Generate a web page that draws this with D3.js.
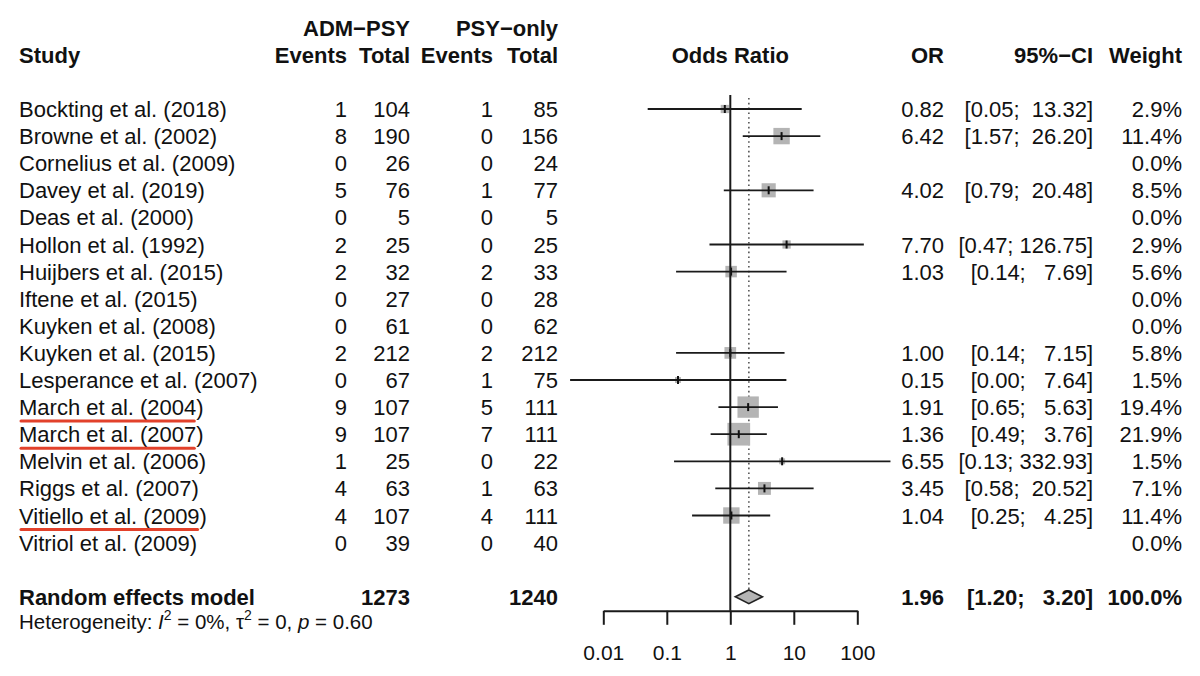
<!DOCTYPE html>
<html>
<head>
<meta charset="utf-8">
<script src="https://cdn.jsdelivr.net/npm/d3@7"></script>
<style>
  html, body { margin: 0; padding: 0; background: #fff; }
  svg text { font-family: "Liberation Sans", Arial, Helvetica, sans-serif; fill: #111; }
</style>
</head>
<body>
<svg id="chart" width="1200" height="676"></svg>
<script>
// ---------------- data ----------------
const studies = [
  "Bockting et al. (2018)", "Browne et al. (2002)", "Cornelius et al. (2009)",
  "Davey et al. (2019)", "Deas et al. (2000)", "Hollon et al. (1992)",
  "Huijbers et al. (2015)", "Iftene et al. (2015)", "Kuyken et al. (2008)",
  "Kuyken et al. (2015)", "Lesperance et al. (2007)", "March et al. (2004)",
  "March et al. (2007)", "Melvin et al. (2006)", "Riggs et al. (2007)",
  "Vitiello et al. (2009)", "Vitriol et al. (2009)"
];
const eventsADM = [1, 8, 0, 5, 0, 2, 2, 0, 0, 2, 0, 9, 9, 1, 4, 4, 0];
const totalADM  = [104, 190, 26, 76, 5, 25, 32, 27, 61, 212, 67, 107, 107, 25, 63, 107, 39];
const eventsPSY = [1, 0, 0, 1, 0, 0, 2, 0, 0, 2, 1, 5, 7, 0, 1, 4, 0];
const totalPSY  = [85, 156, 24, 77, 5, 25, 33, 28, 62, 212, 75, 111, 111, 22, 63, 111, 40];
const oddsRatio = [0.82, 6.42, null, 4.02, null, 7.70, 1.03, null, null, 1.00, 0.15, 1.91, 1.36, 6.55, 3.45, 1.04, null];
const ciLower   = [0.05, 1.57, null, 0.79, null, 0.47, 0.14, null, null, 0.14, 0.003, 0.65, 0.49, 0.13, 0.58, 0.25, null];
const ciUpper   = [13.32, 26.20, null, 20.48, null, 126.75, 7.69, null, null, 7.15, 7.64, 5.63, 3.76, 332.93, 20.52, 4.25, null];
const weights   = [2.9, 11.4, 0.0, 8.5, 0.0, 2.9, 5.6, 0.0, 0.0, 5.8, 1.5, 19.4, 21.9, 1.5, 7.1, 11.4, 0.0];
const highlighted = ["March et al. (2004)", "March et al. (2007)", "Vitiello et al. (2009)"];

const pooled = { label: "Random effects model", totalADM: 1273, totalPSY: 1240, or: 1.96, lower: 1.20, upper: 3.20, weight: 100.0 };
const heterogeneity = { I2: "0%", tau2: "0", p: "0.60" };
const tickValues = [0.01, 0.1, 1, 10, 100];
const tickLabels = ["0.01", "0.1", "1", "10", "100"];

// ---------------- layout ----------------
const svg = d3.select("#chart");
const FS = 22;
const baseOff = 8;          // text baseline below row centre
const colStudy = 19;
const colEvA = 347, colTotA = 410, colEvP = 493, colTotP = 558;
const colOR = 944, colCI = 1093, colW = 1182;

const x = d3.scaleLog().domain([0.01, 100]).range([603.3, 857.3]);
const y = d3.scaleLinear().domain([0, 18]).range([109, 596.8]);
const boxSize = d3.scaleSqrt().domain([0, 21.9]).range([0, 22.7]);

const rows = studies.map((s, i) => ({
  study: s, eA: eventsADM[i], nA: totalADM[i], eP: eventsPSY[i], nP: totalPSY[i],
  or: oddsRatio[i], lo: ciLower[i], hi: ciUpper[i], w: weights[i], i
}));

const fmtCI = (lo, hi) => "[" + lo.toFixed(2) + "; " + hi.toFixed(2).padStart(6, " ") + "]";

function txt(g, xx, yy, s, opts = {}) {
  return g.append("text")
    .attr("x", xx).attr("y", yy)
    .attr("text-anchor", opts.anchor || "start")
    .attr("font-size", opts.size || FS)
    .attr("font-weight", opts.bold ? "bold" : "normal")
    .attr("xml:space", "preserve")
    .style("white-space", "pre")
    .text(s);
}

// ---------------- headers ----------------
const hdr = svg.append("g");
const yH1 = y(-3) + baseOff, yH2 = y(-2) + baseOff;
txt(hdr, colTotA, yH1, "ADM\u2212PSY", { anchor: "end", bold: true });
txt(hdr, colTotP, yH1, "PSY\u2212only", { anchor: "end", bold: true });
txt(hdr, colStudy, yH2, "Study", { bold: true });
txt(hdr, colEvA, yH2, "Events", { anchor: "end", bold: true });
txt(hdr, colTotA, yH2, "Total", { anchor: "end", bold: true });
txt(hdr, colEvP, yH2, "Events", { anchor: "end", bold: true });
txt(hdr, colTotP, yH2, "Total", { anchor: "end", bold: true });
txt(hdr, x(1), yH2, "Odds Ratio", { anchor: "middle", bold: true });
txt(hdr, colOR, yH2, "OR", { anchor: "end", bold: true });
txt(hdr, colCI, yH2, "95%\u2212CI", { anchor: "end", bold: true });
txt(hdr, colW, yH2, "Weight", { anchor: "end", bold: true });

// ---------------- study rows (text) ----------------
const tg = svg.append("g");
rows.forEach(r => {
  const yy = y(r.i) + baseOff;
  const t = txt(tg, colStudy, yy, r.study);
  txt(tg, colEvA, yy, String(r.eA), { anchor: "end" });
  txt(tg, colTotA, yy, String(r.nA), { anchor: "end" });
  txt(tg, colEvP, yy, String(r.eP), { anchor: "end" });
  txt(tg, colTotP, yy, String(r.nP), { anchor: "end" });
  if (r.or !== null) {
    txt(tg, colOR, yy, r.or.toFixed(2), { anchor: "end" });
    txt(tg, colCI, yy, fmtCI(r.lo, r.hi), { anchor: "end" });
  }
  txt(tg, colW, yy, r.w.toFixed(1) + "%", { anchor: "end" });
  if (highlighted.includes(r.study)) {
    const len = t.node().getComputedTextLength();
    const paren = FS * 0.333;
    svg.append("line")
      .attr("x1", colStudy + 2).attr("x2", colStudy + len - paren - 2)
      .attr("y1", yy + 6).attr("y2", yy + 6)
      .attr("stroke", "#e2412b").attr("stroke-width", 3).attr("stroke-linecap", "round");
  }
});

// pooled row
const yP = y(18) + baseOff;
txt(tg, colStudy, yP, pooled.label, { bold: true });
txt(tg, colTotA, yP, String(pooled.totalADM), { anchor: "end", bold: true });
txt(tg, colTotP, yP, String(pooled.totalPSY), { anchor: "end", bold: true });
txt(tg, colOR, yP, pooled.or.toFixed(2), { anchor: "end", bold: true });
txt(tg, colCI, yP, fmtCI(pooled.lower, pooled.upper), { anchor: "end", bold: true });
txt(tg, colW, yP, pooled.weight.toFixed(1) + "%", { anchor: "end", bold: true });

// heterogeneity
const het = tg.append("text").attr("x", colStudy).attr("y", y(18) + 32)
  .attr("font-size", 20.5).attr("xml:space", "preserve").style("white-space", "pre");
het.append("tspan").text("Heterogeneity: ");
het.append("tspan").attr("font-style", "italic").text("I");
het.append("tspan").attr("font-size", 14).attr("dy", -9).text("2");
het.append("tspan").attr("dy", 9).text(" = " + heterogeneity.I2 + ", \u03C4");
het.append("tspan").attr("font-size", 14).attr("dy", -9).text("2");
het.append("tspan").attr("dy", 9).text(" = " + heterogeneity.tau2 + ", ");
het.append("tspan").attr("font-style", "italic").text("p");
het.append("tspan").text(" = " + heterogeneity.p);

// ---------------- forest plot ----------------
const fg = svg.append("g");

// dotted pooled line
fg.append("line")
  .attr("x1", x(pooled.or)).attr("x2", x(pooled.or))
  .attr("y1", y(0) - 11).attr("y2", y(18) - 7)
  .attr("stroke", "#555").attr("stroke-width", 1.6).attr("stroke-dasharray", "1.6,3.2");

// study marks
const drawn = rows.filter(r => r.or !== null);
drawn.forEach(r => {
  const cy = y(r.i), cx = x(r.or), s = boxSize(r.w);
  fg.append("rect")
    .attr("x", cx - s / 2).attr("y", cy - s / 2)
    .attr("width", s).attr("height", s)
    .attr("fill", "#b4b4b4");
  fg.append("line")
    .attr("x1", x(r.lo)).attr("x2", x(r.hi))
    .attr("y1", cy).attr("y2", cy)
    .attr("stroke", "#1a1a1a").attr("stroke-width", 1.8);
  fg.append("line")
    .attr("x1", cx).attr("x2", cx)
    .attr("y1", cy - 4).attr("y2", cy + 4)
    .attr("stroke", "#111").attr("stroke-width", 2);
});

// null line
fg.append("line")
  .attr("x1", x(1)).attr("x2", x(1))
  .attr("y1", y(0) - 14).attr("y2", y(18) + 14)
  .attr("stroke", "#1a1a1a").attr("stroke-width", 2);

// diamond
const dy = y(18), dh = 6.8;
fg.append("path")
  .attr("d", `M${x(pooled.lower)},${dy} L${x(pooled.or)},${dy - dh} L${x(pooled.upper)},${dy} L${x(pooled.or)},${dy + dh} Z`)
  .attr("fill", "#b4b4b4").attr("stroke", "#222").attr("stroke-width", 1.6);

// axis
const axis = d3.axisBottom(x)
  .tickValues(tickValues)
  .tickFormat((d, i) => tickLabels[i])
  .tickSize(14).tickSizeOuter(0).tickPadding(20);
const ag = svg.append("g").attr("transform", `translate(0,${y(18) + 14})`).call(axis);
ag.select(".domain").attr("stroke", "#1a1a1a").attr("stroke-width", 2);
ag.selectAll(".tick line").attr("stroke", "#1a1a1a").attr("stroke-width", 2);
ag.selectAll(".tick text")
  .attr("font-size", 21)
  .attr("font-family", "Liberation Sans, Arial, sans-serif")
  .attr("fill", "#111");
</script>
</body>
</html>
